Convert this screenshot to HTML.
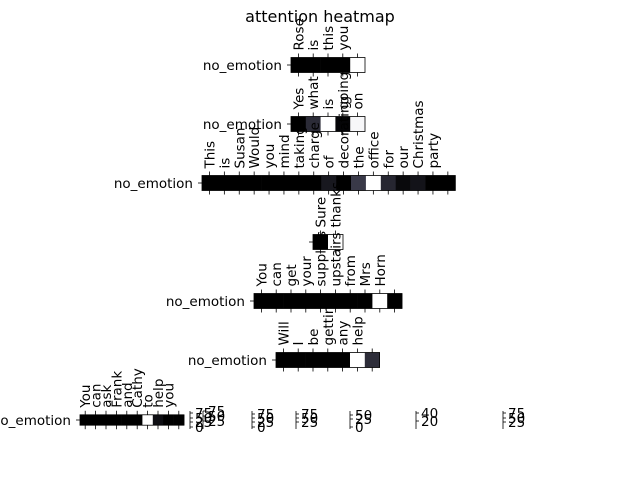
<!DOCTYPE html>
<html><head><meta charset="utf-8"><style>
body{margin:0;background:#fff}
svg{display:block;font-family:"DejaVu Sans","Liberation Sans",sans-serif}
</style></head><body>
<svg id="chart" width="640" height="480" viewBox="0 0 640 480">
<text x="320" y="22" font-size="16" text-anchor="middle">attention heatmap</text>
<g id="rows"></g>
<g id="cbars"></g>
</svg>
<script>
const sentences=[
 ["Rose","is","this","you",""],
 ["Yes","what","is","going","on"],
 ["This","is","Susan","Would","you","mind","taking","charge","of","decorating","the","office","for","our","Christmas","party",""],
 ["Sure","thanks"],
 ["You","can","get","your","supplies","upstairs","from","Mrs","Horn",""],
 ["Will","I","be","getting","any","help",""],
 ["You","can","ask","Frank","and","Cathy","to","help","you",""]
];
const weights=[
 [0,0,0,0,1],
 [0,0.18,1,0.02,0.97],
 [0,0,0,0,0,0,0,0,0.1,0,0.24,1,0.16,0.04,0.08,0,0],
 [0,1],
 [0,0,0,0,0,0,0,0,1,0],
 [0,0,0,0,0,1,0.19],
 [0,0,0,0,0,0,1,0.06,0,0]
];
const showLabel=[true,true,true,false,true,true,true];
const rowLeft=[291,291,202,313,254,276,80];
const rowCy=[65,124,183,242,301,360,420];
const cellW=[14.8,14.8,14.9,15,14.8,14.8,10.4];
const cellH=[15,15,15,15,15,15,10.4];
function color(v){const r=Math.min(255,Math.round(v*255*(v>0.9?1:0.93)));
 const b=Math.min(255,Math.round(r+80*v*(1-v)));return `rgb(${r},${r},${b})`;}
const NS="http://www.w3.org/2000/svg";
const g=document.getElementById('rows');
function mk(t,a,p){const e=document.createElementNS(NS,t);for(const k in a)e.setAttribute(k,a[k]);(p||g).appendChild(e);return e;}
sentences.forEach((ws,i)=>{
 const x0=rowLeft[i],w=cellW[i],h=cellH[i],y0=rowCy[i]-h/2;
 const row=mk('g',{});
 
 
 weights[i].forEach((v,j)=>{
  const c=mk('rect',{x:x0+j*w,y:y0,width:w+0.3,height:h,fill:color(v)},row);
  
  
  const tx=x0+j*w+w/2;
  mk('line',{x1:tx,y1:y0,x2:tx,y2:y0-4,stroke:'#000','stroke-width':0.8},row);
  mk('line',{x1:tx,y1:y0+h,x2:tx,y2:y0+h+4,stroke:'#000','stroke-width':0.8},row);
  if(ws[j]){const t=mk('text',{x:0,y:0,'font-size':13.5,transform:`translate(${tx+5},${y0-7}) rotate(-90)`},row);t.textContent=ws[j];
   
   }
 });
 mk('rect',{x:x0,y:y0,width:w*weights[i].length,height:h,fill:'none',stroke:'#000','stroke-width':0.8},row);
 mk('line',{x1:x0,y1:rowCy[i],x2:x0-4,y2:rowCy[i],stroke:'#000','stroke-width':0.8},row);
 if(showLabel[i]){const t=mk('text',{x:x0-9,y:rowCy[i]+5,'font-size':13.5,'text-anchor':'end'},row);t.textContent='no_emotion';
  
  }
});
const cbX=[190,203,252,296,350,416,503];
const cbLabels=[["75","50","25","0"],["75","50","25"],["75","50","25","0"],["75","50","25"],["50","25","0"],["40","20"],["75","50","25"]];
const cbY=[[418,423,427,432],[416,421,426],[419,423,427,432],[419,423,427],[420,424,432],[418,426],[418,423,427]];
const cg=document.getElementById('cbars');
cbX.forEach((x,i)=>{
 const grp=mk('g',{},cg);
 
 
 mk('line',{x1:x,y1:411,x2:x,y2:429,stroke:'#000','stroke-width':0.8},grp);
 cbLabels[i].forEach((l,k)=>{const y=cbY[i][k];
  mk('line',{x1:x,y1:y-5,x2:x+3,y2:y-5,stroke:'#000','stroke-width':0.8},grp);
  const t=mk('text',{x:x+5,y:y,'font-size':13.5},grp);t.textContent=l;
  
  });
});
</script>
</body></html>
